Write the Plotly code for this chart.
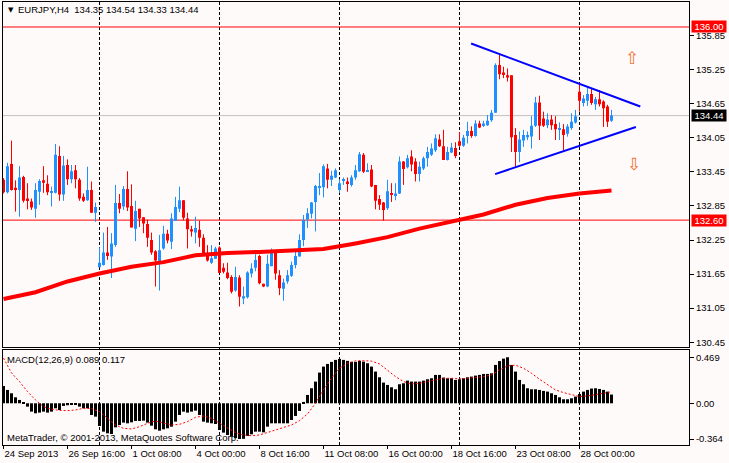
import plotly.graph_objects as go

# EURJPY H4 candles, bar 0 = 24 Sep 2013 00:00
opens = [133.31, 133.09, 133.59, 133.17, 133.13, 133.36, 132.98, 132.93, 132.80, 133.10,
         133.30, 133.24, 133.08, 133.08, 133.73, 133.05, 133.57, 133.32, 133.48, 133.31,
         133.01, 132.95, 133.13, 132.73, 131.77, 131.81, 132.03, 131.96, 132.16, 132.90,
         132.84, 133.15, 132.85, 132.45, 132.80, 132.65, 132.53, 132.25, 132.05, 131.87,
         132.10, 132.36, 132.22, 132.59, 132.80, 132.95, 132.63, 132.44, 132.38, 132.43,
         132.29, 132.02, 131.85, 131.92, 132.12, 131.76, 131.68, 131.60, 131.36, 131.59,
         131.22, 131.24, 131.66, 131.76, 131.97, 131.48, 131.43, 131.79, 132.05, 131.63,
         131.39, 131.52, 131.62, 131.81, 131.96, 132.25, 132.61, 132.71, 132.92, 133.18,
         133.18, 133.51, 133.31, 133.35, 133.13, 133.29, 133.28, 133.22, 133.35, 133.46,
         133.75, 133.46, 133.49, 133.22, 132.97, 132.91, 132.81, 133.07, 133.04, 133.07,
         133.63, 133.53, 133.72, 133.63, 133.41, 133.51, 133.69, 133.75, 133.83, 134.02,
         133.90, 133.66, 133.79, 133.87, 133.99, 133.91, 134.08, 134.17, 134.08, 134.30,
         134.27, 134.27, 134.36, 134.49, 135.33, 135.20, 135.15, 135.15, 134.10, 133.80,
         134.00, 134.06, 134.07, 134.26, 134.67, 134.39, 134.27, 134.37, 134.29, 134.19,
         134.20, 134.12, 134.22, 134.32, 134.86, 134.66, 134.70, 134.82, 134.64, 134.73,
         134.69, 134.60, 134.35]
highs = [133.34, 133.61, 134.00, 133.30, 133.55, 133.38, 133.25, 132.98, 133.25, 133.32,
         133.55, 133.39, 133.19, 133.94, 133.90, 133.73, 133.67, 133.57, 133.57, 133.34,
         133.07, 133.54, 133.28, 132.91, 132.12, 132.38, 132.48, 132.37, 133.22, 133.06,
         133.20, 133.46, 133.23, 132.94, 132.80, 132.65, 132.61, 132.38, 132.07, 132.34,
         132.50, 132.43, 132.72, 133.01, 133.19, 132.95, 132.73, 132.50, 132.66, 132.59,
         132.35, 132.16, 132.16, 132.13, 132.14, 131.84, 131.85, 131.63, 131.78, 131.63,
         131.43, 131.70, 131.84, 132.00, 131.99, 131.48, 131.99, 132.10, 132.07, 131.72,
         131.57, 131.72, 131.87, 132.04, 132.35, 132.69, 132.81, 132.92, 133.22, 133.43,
         133.58, 133.59, 133.47, 133.51, 133.32, 133.35, 133.35, 133.39, 133.57, 133.80,
         133.78, 133.60, 133.57, 133.22, 133.04, 132.92, 133.31, 133.25, 133.25, 133.72,
         133.64, 133.75, 133.83, 133.69, 133.63, 133.72, 133.89, 133.95, 134.11, 134.11,
         134.19, 133.89, 133.96, 133.97, 134.15, 134.10, 134.33, 134.25, 134.36, 134.35,
         134.35, 134.45, 134.54, 135.36, 135.54, 135.30, 135.27, 135.15, 134.22, 134.16,
         134.19, 134.16, 134.43, 134.77, 134.79, 134.51, 134.48, 134.45, 134.43, 134.32,
         134.29, 134.29, 134.48, 134.54, 135.01, 134.80, 134.94, 134.92, 134.77, 134.89,
         134.71, 134.63, 134.54]
lows = [133.07, 133.07, 133.12, 132.75, 132.66, 132.91, 132.79, 132.78, 132.64, 132.87,
        133.08, 133.04, 132.84, 133.07, 132.94, 132.94, 133.22, 133.25, 133.16, 132.94,
        132.92, 132.94, 132.73, 132.57, 131.77, 131.80, 131.90, 131.58, 132.13, 132.72,
        132.78, 132.76, 132.47, 132.23, 132.48, 132.37, 132.13, 131.99, 131.43, 131.36,
        132.08, 132.19, 132.09, 132.59, 132.74, 132.60, 132.10, 132.31, 132.19, 132.13,
        131.99, 131.87, 131.83, 131.92, 131.67, 131.66, 131.56, 131.31, 131.34, 131.08,
        131.12, 131.22, 131.59, 131.70, 131.47, 131.42, 131.42, 131.79, 131.55, 131.28,
        131.18, 131.48, 131.60, 131.75, 131.96, 132.14, 132.46, 132.63, 132.40, 133.04,
        133.00, 133.16, 133.20, 133.34, 133.08, 133.22, 133.10, 133.19, 133.31, 133.45,
        133.43, 133.45, 133.18, 132.79, 132.78, 132.59, 132.78, 132.92, 132.95, 133.06,
        133.22, 133.51, 133.46, 133.28, 133.28, 133.48, 133.54, 133.73, 133.80, 133.89,
        133.66, 133.65, 133.78, 133.69, 133.89, 133.89, 133.95, 134.05, 134.07, 134.22,
        134.24, 134.26, 134.33, 134.49, 135.08, 135.10, 135.04, 133.80, 133.54, 133.62,
        133.89, 134.01, 133.86, 134.24, 134.01, 134.24, 134.22, 134.19, 134.01, 134.01,
        133.83, 134.07, 134.19, 134.30, 134.51, 134.60, 134.61, 134.63, 134.54, 134.60,
        134.24, 134.24, 134.33]
closes = [133.09, 133.55, 133.13, 133.13, 133.35, 132.94, 132.95, 132.82, 133.13, 133.29,
          133.26, 133.09, 133.10, 133.75, 133.05, 133.56, 133.32, 133.46, 133.32, 132.98,
          132.94, 133.13, 132.73, 132.83, 131.85, 132.03, 131.97, 132.19, 132.90, 132.80,
          133.15, 132.82, 132.47, 132.76, 132.63, 132.54, 132.29, 132.03, 131.89, 132.07,
          132.36, 132.24, 132.63, 132.83, 132.95, 132.64, 132.44, 132.40, 132.46, 132.29,
          132.02, 131.89, 131.93, 132.10, 131.67, 131.69, 131.58, 131.34, 131.60, 131.25,
          131.26, 131.68, 131.75, 131.90, 131.49, 131.43, 131.83, 132.05, 131.66, 131.40,
          131.50, 131.63, 131.81, 131.97, 132.25, 132.60, 132.72, 132.91, 133.20, 133.20,
          133.55, 133.31, 133.38, 133.48, 133.25, 133.31, 133.25, 133.35, 133.48, 133.76,
          133.45, 133.48, 133.19, 132.94, 132.87, 132.78, 133.11, 133.05, 133.07, 133.63,
          133.50, 133.69, 133.58, 133.41, 133.54, 133.69, 133.80, 133.86, 134.04, 133.90,
          133.66, 133.80, 133.88, 133.73, 133.91, 134.05, 134.17, 134.08, 134.30, 134.23,
          134.30, 134.35, 134.49, 135.33, 135.17, 135.17, 135.11, 134.06, 133.80, 134.02,
          134.10, 134.10, 134.26, 134.67, 134.26, 134.26, 134.37, 134.27, 134.20, 134.22,
          134.10, 134.25, 134.33, 134.43, 134.70, 134.74, 134.82, 134.66, 134.73, 134.64,
          134.57, 134.33, 134.44]

# moving average, read every 8 bars
ma_idx = list(range(0, 153, 8))
ma_vals = [131.21, 131.33, 131.52, 131.66, 131.78, 131.86, 131.98, 132.02, 132.04, 132.06,
           132.09, 132.19, 132.30, 132.45, 132.58, 132.70, 132.87, 132.99, 133.07, 133.12]

macd_hist = [0.177, 0.136, 0.102, 0.061, 0.034, 0.004, -0.034, -0.085, -0.102, -0.095,
             -0.085, -0.095, -0.085, -0.051, -0.068, -0.027, -0.020, -0.014, -0.010, -0.034,
             -0.051, -0.051, -0.119, -0.136, -0.231, -0.289, -0.306, -0.313, -0.245, -0.221,
             -0.197, -0.204, -0.194, -0.180, -0.180, -0.177, -0.197, -0.228, -0.265, -0.279,
             -0.265, -0.255, -0.238, -0.187, -0.119, -0.085, -0.095, -0.085, -0.075, -0.119,
             -0.187, -0.197, -0.204, -0.211, -0.272, -0.299, -0.323, -0.340, -0.355, -0.364,
             -0.362, -0.333, -0.316, -0.289, -0.289, -0.296, -0.238, -0.204, -0.204, -0.204,
             -0.204, -0.204, -0.170, -0.129, -0.078, 0.014, 0.085, 0.153, 0.221, 0.313,
             0.374, 0.401, 0.422, 0.442, 0.452, 0.442, 0.432, 0.422, 0.422, 0.432,
             0.425, 0.408, 0.374, 0.323, 0.265, 0.211, 0.187, 0.163, 0.143, 0.194,
             0.204, 0.231, 0.221, 0.221, 0.221, 0.231, 0.245, 0.255, 0.289, 0.289,
             0.262, 0.255, 0.255, 0.238, 0.245, 0.255, 0.265, 0.272, 0.282, 0.289,
             0.299, 0.299, 0.306, 0.391, 0.430, 0.455, 0.469, 0.391, 0.323, 0.238,
             0.194, 0.153, 0.143, 0.143, 0.136, 0.126, 0.119, 0.102, 0.085, 0.061,
             0.041, 0.041, 0.051, 0.068, 0.095, 0.119, 0.136, 0.150, 0.153, 0.146,
             0.136, 0.119, 0.089]

# signal line, read every 2 bars
sig_idx = list(range(0, 153, 2))
sig_vals = [0.46, 0.31, 0.221, 0.119, 0.034, -0.034, -0.061, -0.072, -0.075, -0.068,
            -0.051, -0.054, -0.085, -0.153, -0.221, -0.255, -0.262, -0.238, -0.204, -0.180,
            -0.197, -0.221, -0.214, -0.187, -0.143, -0.129, -0.153, -0.204, -0.255, -0.299,
            -0.323, -0.330, -0.323, -0.299, -0.272, -0.245, -0.221, -0.177, -0.109, 0.0,
            0.136, 0.255, 0.357, 0.408, 0.432, 0.435, 0.429, 0.401, 0.340, 0.272,
            0.221, 0.197, 0.204, 0.221, 0.245, 0.255, 0.255, 0.248, 0.255, 0.262,
            0.272, 0.289, 0.340, 0.381, 0.388, 0.357, 0.306, 0.245, 0.187, 0.136,
            0.109, 0.085, 0.068, 0.075, 0.085, 0.102, 0.117]

x_ticks = [0, 16, 32, 48, 64, 80, 96, 112, 128, 144]
x_labels = ["24 Sep 2013", "26 Sep 16:00", "1 Oct 08:00", "4 Oct 00:00", "8 Oct 16:00",
            "11 Oct 08:00", "16 Oct 00:00", "18 Oct 16:00", "23 Oct 08:00", "28 Oct 00:00"]
week_starts = [24, 54, 84, 114, 144]
y_ticks = [130.45, 131.05, 131.65, 132.25, 132.85, 133.45, 134.05, 134.65, 135.25, 135.85]
macd_ticks = [0.469, 0.0, -0.364]
macd_labels = ["0.469", "0.00", "-0.364"]
levels = [136.00, 132.60]
bid = 134.44
tri_up_x, tri_up_y = [116.9, 159.2], [135.71, 134.60]
tri_lo_x, tri_lo_y = [122.9, 158.1], [133.41, 134.24]
arrow_up = (157.1, 135.45)
arrow_dn = (157.7, 133.59)

W, H = 729, 463
ML, MR, MT, MB = 3, 40, 2, 18
PW, PH = W - ML - MR, H - MT - MB
BG = "#FFFAFA"
UP, DN = "#1E90FF", "#FF0000"
FONT = "Liberation Sans"


def px_x(px):
    return (px - ML) / PW


def px_y(py):
    return (H - MB - py) / PH


idx = list(range(len(opens)))
colors = [UP if c >= o else DN for o, c in zip(opens, closes)]
body_base = [min(o, c) for o, c in zip(opens, closes)]
body_h = [max(abs(c - o), 0.012) for o, c in zip(opens, closes)]

fig = go.Figure()

for col in (UP, DN):
    wx, wy = [], []
    for i in idx:
        if colors[i] == col:
            wx += [i, i, None]
            wy += [lows[i], highs[i], None]
    fig.add_trace(go.Scatter(x=wx, y=wy, mode="lines", line=dict(color=col, width=1),
                             hoverinfo="skip"))

fig.add_trace(go.Bar(x=idx, y=body_h, base=body_base, width=0.75,
                     marker=dict(color=colors, line=dict(width=0))))

fig.add_trace(go.Scatter(x=ma_idx, y=ma_vals, mode="lines",
                         line=dict(color="#FF0000", width=4)))
fig.add_trace(go.Scatter(x=tri_up_x, y=tri_up_y, mode="lines",
                         line=dict(color="#0000FF", width=2)))
fig.add_trace(go.Scatter(x=tri_lo_x, y=tri_lo_y, mode="lines",
                         line=dict(color="#0000FF", width=2)))

fig.add_trace(go.Bar(x=idx, y=macd_hist, width=0.75, xaxis="x2", yaxis="y2",
                     marker=dict(color="#000000", line=dict(width=0))))
fig.add_trace(go.Scatter(x=sig_idx, y=sig_vals, mode="lines", xaxis="x2", yaxis="y2",
                         line=dict(color="#FF0000", width=1, dash="2px,2px")))

xr = [-0.125, -0.125 + PW / 4]
main_dom = [(H - MB - 347.3) / PH, 1]
macd_dom = [0, (H - MB - 350) / PH]

axis_common = dict(showline=True, mirror=True, linecolor="#000000", linewidth=1,
                   showgrid=False, zeroline=False, automargin=False)
tickfont = dict(family=FONT, size=9.5, color="#000000")

fig.update_layout(
    width=W, height=H,
    margin=dict(l=ML, r=MR, t=MT, b=MB, autoexpand=False),
    paper_bgcolor=BG, plot_bgcolor=BG,
    showlegend=False, barmode="overlay", hovermode=False,
    xaxis=dict(range=xr, domain=[0, 1], anchor="y", showticklabels=False,
               ticks="", **axis_common),
    yaxis=dict(range=[130.361, 136.44], domain=main_dom, anchor="x", side="right",
               tickvals=y_ticks, ticktext=["%.2f" % v for v in y_ticks],
               ticks="outside", ticklen=4, tickcolor="#000000", tickfont=tickfont,
               **axis_common),
    xaxis2=dict(range=xr, domain=[0, 1], anchor="y2", tickvals=x_ticks,
                ticktext=x_labels, ticks="outside", ticklen=3, tickcolor="#000000",
                tickangle=0, ticklabelposition="outside right", tickfont=tickfont,
                **axis_common),
    yaxis2=dict(range=[-0.425, 0.543], domain=macd_dom, anchor="x2", side="right",
                tickvals=macd_ticks, ticktext=macd_labels, ticks="outside", ticklen=4,
                tickcolor="#000000", tickfont=tickfont, **axis_common),
)

shapes = []
for w in week_starts:
    shapes.append(dict(type="line", xref="x", yref="paper", x0=w, x1=w, y0=0, y1=1,
                       line=dict(color="#000000", width=1, dash="3px,2px"), layer="below"))
for lv in levels:
    shapes.append(dict(type="line", xref="paper", yref="y", x0=0, x1=1, y0=lv, y1=lv,
                       line=dict(color="#FF0000", width=1), layer="below"))
shapes.append(dict(type="line", xref="paper", yref="y", x0=0, x1=1, y0=bid, y1=bid,
                   line=dict(color="#C0C0C0", width=1), layer="below"))
fig.update_layout(shapes=shapes)

annotations = [
    dict(text="▼", x=px_x(6), y=px_y(10), xanchor="left", yanchor="middle",
         font=dict(family="DejaVu Sans", size=7, color="#000000")),
    dict(text="EURJPY,H4\u00a0\u00a0134.35 134.54 134.33 134.44", x=px_x(16), y=px_y(10),
         xanchor="left", yanchor="middle", font=dict(family=FONT, size=9.5, color="#000000")),
    dict(text="MACD(12,26,9) 0.089 0.117", x=px_x(5), y=px_y(359), xanchor="left",
         yanchor="middle", font=dict(family=FONT, size=9.5, color="#000000")),
    dict(text="MetaTrader, © 2001-2013, MetaQuotes Software Corp.", x=px_x(5), y=px_y(437),
         xanchor="left", yanchor="middle", font=dict(family=FONT, size=9.5, color="#000000")),
    dict(text="⇧", x=arrow_up[0], y=arrow_up[1], xref="x", yref="y", xanchor="center",
         yanchor="middle", font=dict(family="DejaVu Sans", size=17, color="#F07030")),
    dict(text="⇩", x=arrow_dn[0], y=arrow_dn[1], xref="x", yref="y", xanchor="center",
         yanchor="middle", font=dict(family="DejaVu Sans", size=17, color="#F07030")),
]
for val, bg in ((levels[0], "#FF0000"), (levels[1], "#FF0000"), (bid, "#000000")):
    annotations.append(dict(text="%.2f" % val, x=px_x(691), y=val, xref="paper", yref="y",
                            xanchor="left", yanchor="middle", showarrow=False,
                            width=34, height=11, bgcolor=bg, borderpad=0,
                            font=dict(family=FONT, size=9.5, color="#FFFFFF")))
for a in annotations:
    a.setdefault("xref", "paper")
    a.setdefault("yref", "paper")
    a["showarrow"] = False
fig.update_layout(annotations=annotations)

# page margin off so the figure sits at the window's top-left corner
fig.write_html("out.html", config={"displayModeBar": False},
               post_script="document.body.style.margin='0';document.body.style.overflow='hidden';")
